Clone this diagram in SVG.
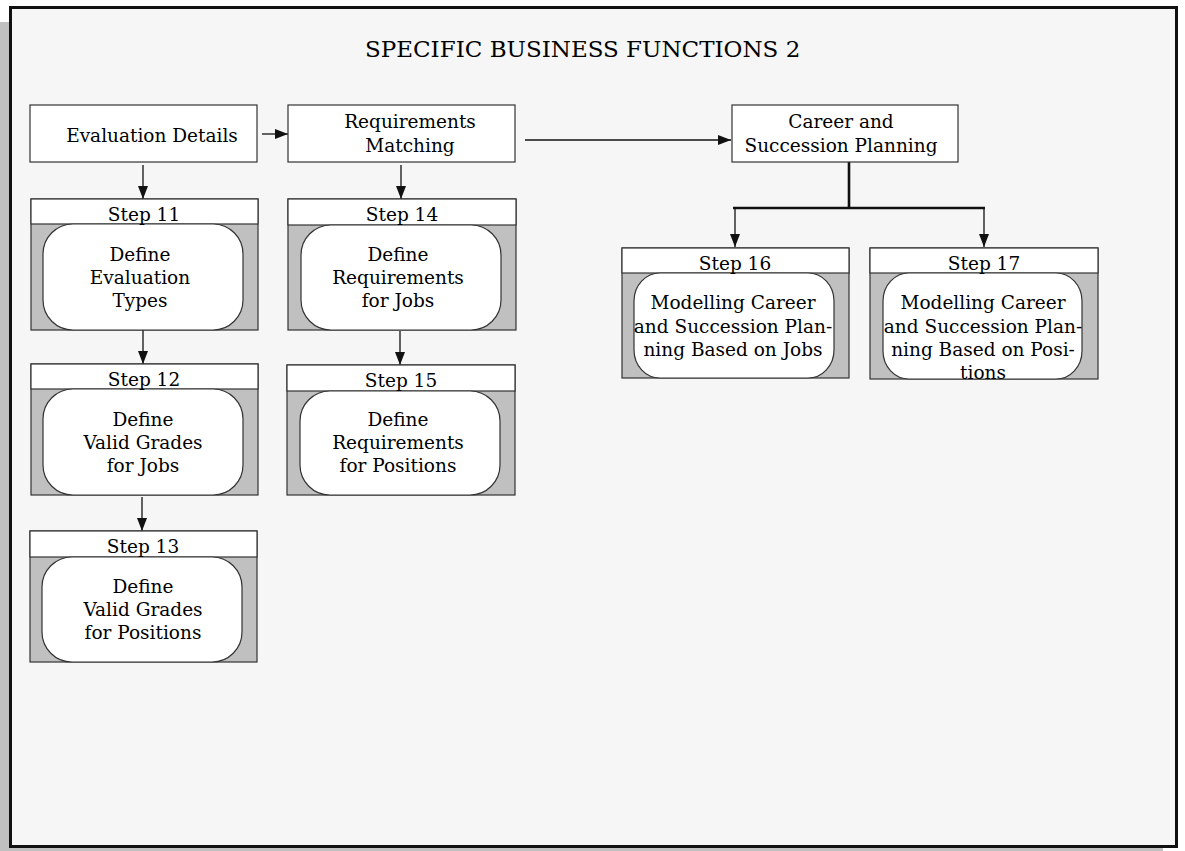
<svg xmlns="http://www.w3.org/2000/svg" width="1185" height="851" viewBox="0 0 1185 851">
  <style>
    .txt { font-family: "DejaVu Serif", "Liberation Serif", serif; font-size: 18.5px; fill: #000; text-anchor: middle; }
    .title { font-family: "DejaVu Serif", "Liberation Serif", serif; font-size: 23px; fill: #000; }
    .box { fill: #ffffff; stroke: #333; stroke-width: 1.2; }
    .body { fill: #c0c0c0; stroke: #333; stroke-width: 1.2; }
    .pill { fill: #ffffff; stroke: #333; stroke-width: 1.2; }
    .conn { stroke: #111; stroke-width: 1.3; fill: none; }
    .bus { stroke: #111; stroke-width: 2.6; fill: none; }
  </style>
  <defs>
    <marker id="arrow" markerUnits="userSpaceOnUse" markerWidth="13" markerHeight="10" refX="13" refY="5" orient="auto">
      <path d="M0,0 L13,5 L0,10 Z" fill="#111"/>
    </marker>
  </defs>

  <!-- page shadow and frame -->
  <rect x="0" y="22" width="1163" height="840" fill="#c0c0c0"/>
  <rect x="10.5" y="7.5" width="1166" height="839" fill="#f6f6f6" stroke="#111" stroke-width="3"/>

  <text class="title" x="365" y="57">SPECIFIC BUSINESS FUNCTIONS 2</text>

  <!-- connectors -->
  <g id="connectors">
    <line class="conn" x1="262" y1="134" x2="288" y2="134" marker-end="url(#arrow)"/>
    <line class="conn" x1="525" y1="140" x2="731" y2="140" marker-end="url(#arrow)"/>
    <line class="conn" x1="143" y1="165" x2="143" y2="199" marker-end="url(#arrow)"/>
    <line class="conn" x1="143" y1="330" x2="143" y2="364" marker-end="url(#arrow)"/>
    <line class="conn" x1="142" y1="497" x2="142" y2="531" marker-end="url(#arrow)"/>
    <line class="conn" x1="401" y1="165" x2="401" y2="199" marker-end="url(#arrow)"/>
    <line class="conn" x1="400" y1="331" x2="400" y2="365" marker-end="url(#arrow)"/>
    <line class="bus" x1="849" y1="162" x2="849" y2="208"/>
    <line class="bus" x1="733" y1="208" x2="985" y2="208"/>
    <line class="conn" x1="735" y1="208" x2="735" y2="247" marker-end="url(#arrow)"/>
    <line class="conn" x1="984" y1="208" x2="984" y2="247" marker-end="url(#arrow)"/>
  </g>

  <!-- top-level functions -->
  <g id="evaluation-details">
    <rect class="box" x="30" y="105" width="227" height="57"/>
    <text class="txt" x="152" y="142">Evaluation Details</text>
  </g>
  <g id="requirements-matching">
    <rect class="box" x="288" y="105" width="227" height="57"/>
    <text class="txt" x="410" y="128">Requirements</text>
    <text class="txt" x="410" y="152">Matching</text>
  </g>
  <g id="career-succession">
    <rect class="box" x="732" y="105" width="226" height="57"/>
    <text class="txt" x="841" y="128">Career and</text>
    <text class="txt" x="841" y="152">Succession Planning</text>
  </g>

  <!-- steps -->
  <g id="step11">
    <rect class="body" x="31" y="199" width="227" height="131"/>
    <rect class="box" x="31" y="199" width="227" height="25"/>
    <rect class="pill" x="43" y="224" width="200" height="106" rx="30" ry="30"/>
    <text class="txt" x="144" y="221">Step 11</text>
    <text class="txt" x="140" y="261">Define</text>
    <text class="txt" x="140" y="284">Evaluation</text>
    <text class="txt" x="140" y="307">Types</text>
  </g>
  <g id="step12">
    <rect class="body" x="31" y="364" width="227" height="131"/>
    <rect class="box" x="31" y="364" width="227" height="25"/>
    <rect class="pill" x="43" y="389" width="200" height="106" rx="30" ry="30"/>
    <text class="txt" x="144" y="386">Step 12</text>
    <text class="txt" x="143" y="426">Define</text>
    <text class="txt" x="143" y="449">Valid Grades</text>
    <text class="txt" x="143" y="472">for Jobs</text>
  </g>
  <g id="step13">
    <rect class="body" x="30" y="531" width="227" height="131"/>
    <rect class="box" x="30" y="531" width="227" height="26"/>
    <rect class="pill" x="42" y="557" width="200" height="105" rx="30" ry="30"/>
    <text class="txt" x="143" y="553">Step 13</text>
    <text class="txt" x="143" y="593">Define</text>
    <text class="txt" x="143" y="616">Valid Grades</text>
    <text class="txt" x="143" y="639">for Positions</text>
  </g>
  <g id="step14">
    <rect class="body" x="288" y="199" width="228" height="131"/>
    <rect class="box" x="288" y="199" width="228" height="26"/>
    <rect class="pill" x="301" y="225" width="200" height="105" rx="30" ry="30"/>
    <text class="txt" x="402" y="221">Step 14</text>
    <text class="txt" x="398" y="261">Define</text>
    <text class="txt" x="398" y="284">Requirements</text>
    <text class="txt" x="398" y="307">for Jobs</text>
  </g>
  <g id="step15">
    <rect class="body" x="287" y="365" width="228" height="130"/>
    <rect class="box" x="287" y="365" width="228" height="26"/>
    <rect class="pill" x="300" y="391" width="200" height="104" rx="30" ry="30"/>
    <text class="txt" x="401" y="387">Step 15</text>
    <text class="txt" x="398" y="426">Define</text>
    <text class="txt" x="398" y="449">Requirements</text>
    <text class="txt" x="398" y="472">for Positions</text>
  </g>
  <g id="step16">
    <rect class="body" x="622" y="248" width="227" height="130"/>
    <rect class="box" x="622" y="248" width="227" height="25"/>
    <rect class="pill" x="634" y="273" width="200" height="105" rx="26" ry="28"/>
    <text class="txt" x="735" y="270">Step 16</text>
    <text class="txt" x="733" y="309">Modelling Career</text>
    <text class="txt" x="733" y="333">and Succession Plan-</text>
    <text class="txt" x="733" y="356">ning Based on Jobs</text>
  </g>
  <g id="step17">
    <rect class="body" x="870" y="248" width="228" height="131"/>
    <rect class="box" x="870" y="248" width="228" height="25"/>
    <rect class="pill" x="883" y="273" width="199" height="106" rx="26" ry="28"/>
    <text class="txt" x="984" y="270">Step 17</text>
    <text class="txt" x="983" y="309">Modelling Career</text>
    <text class="txt" x="983" y="333">and Succession Plan-</text>
    <text class="txt" x="983" y="356">ning Based on Posi-</text>
    <text class="txt" x="983" y="379">tions</text>
  </g>
</svg>
